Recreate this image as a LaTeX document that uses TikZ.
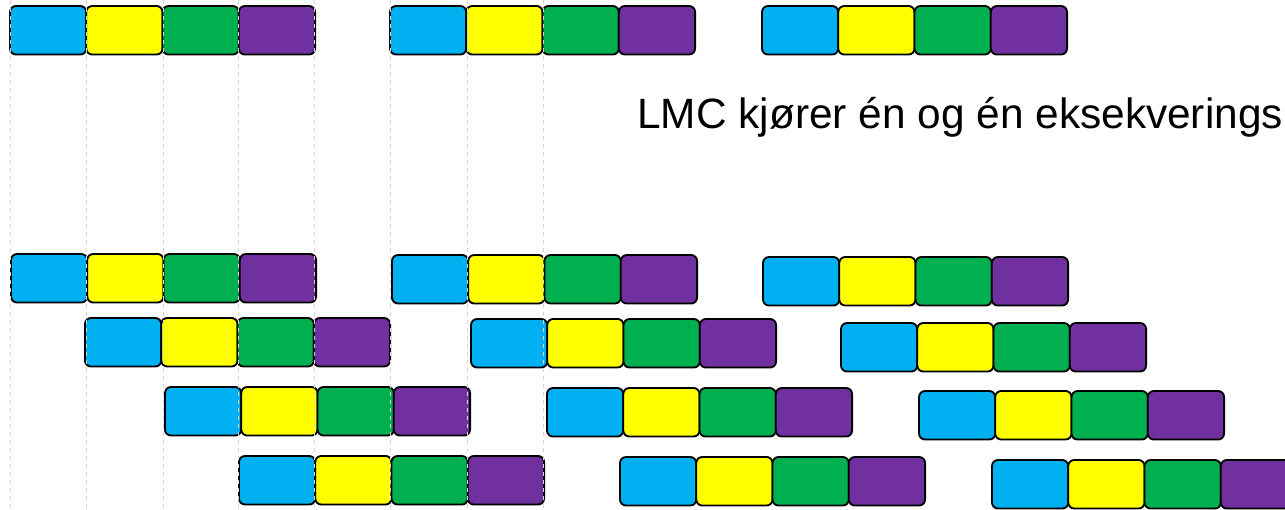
\documentclass[tikz,border=0pt]{standalone}
\usepackage{fontspec}
\setmainfont{Liberation Sans}
\usetikzlibrary{positioning}
\definecolor{stepblue}{HTML}{00B0F0}
\definecolor{stepyellow}{HTML}{FFFF00}
\definecolor{stepgreen}{HTML}{00B050}
\definecolor{steppurple}{HTML}{7030A0}
\definecolor{guidegray}{HTML}{D4D4D4}

\tikzset{
  stage/.style={draw=black, line width=1.4pt, rounded corners=4.5pt,
                minimum width=57.2pt, minimum height=36.4pt,
                inner sep=0pt, outer sep=0pt},
  guide/.style={draw=guidegray, dashed, line width=0.6pt},
}

\begin{document}
\begin{tikzpicture}[x=0.75pt, y=-0.75pt]
  \useasboundingbox (0,0) rectangle (1285,510);
  \clip (0,0) rectangle (1285,510);
  % fire steg per instruksjon
  \foreach \name/\gx/\gy in {t1/10/6, t2/390/6, t3/762/6,
      a1/11/254, a2/392/255, a3/763/257,
      b1/85/318, b2/471/319, b3/841/323,
      c1/165/387, c2/547/388, c3/919/391,
      d1/239/456, d2/620/457, d3/992/460}{
    \node[stage, fill=stepblue, anchor=north west] (\name-1) at (\gx,\gy) {};
    \node[stage, fill=stepyellow, right=0pt of \name-1] (\name-2) {};
    \node[stage, fill=stepgreen, right=0pt of \name-2] (\name-3) {};
    \node[stage, fill=steppurple, right=0pt of \name-3] (\name-4) {};
  }
  % hjelpelinjer
  \foreach \gx in {10,86,163,238,314,390,467,543}
    \draw[guide] (\gx,0) -- (\gx,510);
  \node[anchor=base west, inner sep=0pt,
        font=\fontsize{31.8pt}{38pt}\selectfont] (status) at (637,128)
    {LMC kjører én og én eksekverings};
\end{tikzpicture}
\end{document}
